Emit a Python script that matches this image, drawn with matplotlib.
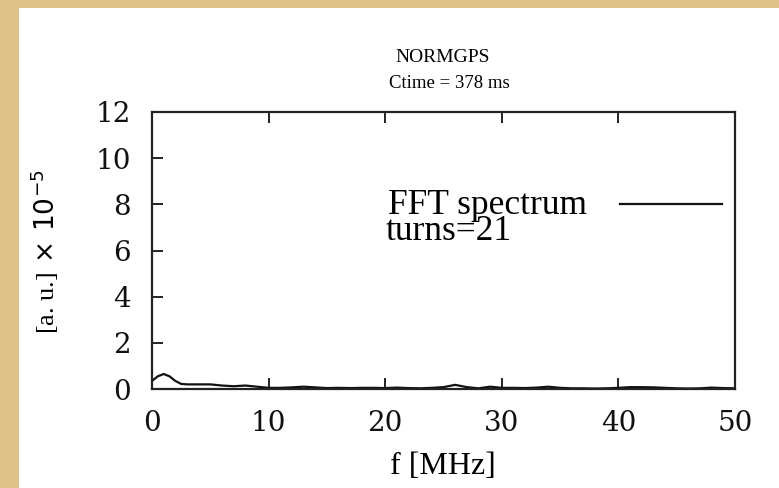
import matplotlib
matplotlib.use("Agg")
import matplotlib.pyplot as plt
from matplotlib.patches import Rectangle

# spectrum (amplitude in units of 1e-5)
freq_mhz = [0, 0.5, 1.0, 1.5, 2.0, 2.5, 3, 4, 5, 6, 7, 8, 9, 10, 11, 12, 13, 14, 15,
            16, 17, 18, 19, 20, 21, 22, 23, 24, 25, 26, 27, 28, 29, 30, 31, 32, 33,
            34, 35, 36, 37, 38, 39, 40, 41, 42, 43, 44, 45, 46, 47, 48, 49, 50]
amplitude = [0.35, 0.55, 0.65, 0.55, 0.35, 0.22, 0.2, 0.2, 0.2, 0.15, 0.12, 0.15, 0.1,
             0.05, 0.05, 0.07, 0.1, 0.07, 0.04, 0.05, 0.04, 0.05, 0.05, 0.04, 0.06,
             0.04, 0.03, 0.05, 0.08, 0.18, 0.08, 0.03, 0.1, 0.05, 0.05, 0.04, 0.06,
             0.1, 0.05, 0.03, 0.03, 0.02, 0.03, 0.05, 0.08, 0.08, 0.07, 0.05, 0.03,
             0.02, 0.03, 0.06, 0.04, 0.03]
x_ticks = [0, 10, 20, 30, 40, 50]
y_ticks = [0, 2, 4, 6, 8, 10, 12]

W, H = 779, 488
SERIF = "Liberation Serif"

fig = plt.figure(figsize=(W / 100, H / 100), dpi=100, facecolor="#dfc38a")
# white page over the parchment background
fig.patches.append(Rectangle((19 / W, 0), 1 - 19 / W, 1 - 8 / H, transform=fig.transFigure,
                             facecolor="white", edgecolor="none", zorder=-5))

ax = fig.add_axes([152 / W, 1 - 389 / H, (735 - 152) / W, (389 - 112) / H], zorder=2)
ax.set_facecolor("white")
ax.plot(freq_mhz, amplitude, color="#111111", lw=1.6)
ax.set_xlim(0, 50)
ax.set_ylim(0, 12)
ax.set_xticks(x_ticks)
ax.set_yticks(y_ticks)
ax.tick_params(direction="in", length=8, width=1.3, top=True, right=False,
               labelsize=20, pad=15, colors="#111111")
for label in ax.get_xticklabels() + ax.get_yticklabels():
    label.set_family("DejaVu Serif")
for side in ax.spines.values():
    side.set_linewidth(1.6)
    side.set_color("#222222")

# gnuplot-style key: text first, sample line after it
ax.text(0.405, 0.632, "FFT spectrum", transform=ax.transAxes, family=SERIF,
        fontsize=25.5, va="baseline", ha="left")
ax.text(0.401, 0.538, "turns=21", transform=ax.transAxes, family=SERIF,
        fontsize=25.5, va="baseline", ha="left")
ax.plot([0.803, 0.978], [0.668, 0.668], transform=ax.transAxes, color="#111111", lw=1.6)

fig.text(443 / W, 1 - 57 / H, "NORMGPS", family=SERIF, fontsize=14, ha="center", va="center")
fig.text(449 / W, 1 - 83 / H, "Ctime = 378 ms", family=SERIF, fontsize=13.5, ha="center", va="center")
fig.text(443 / W, 1 - 466 / H, "f [MHz]", family=SERIF, fontsize=23, ha="center", va="center")
fig.text(45 / W, 1 - 252 / H, r"[a. u.]$\,\times\,10^{-5}$", family=SERIF, fontsize=19,
         rotation=90, ha="center", va="center")

fig.savefig("out.png", dpi=100, facecolor=fig.get_facecolor())
